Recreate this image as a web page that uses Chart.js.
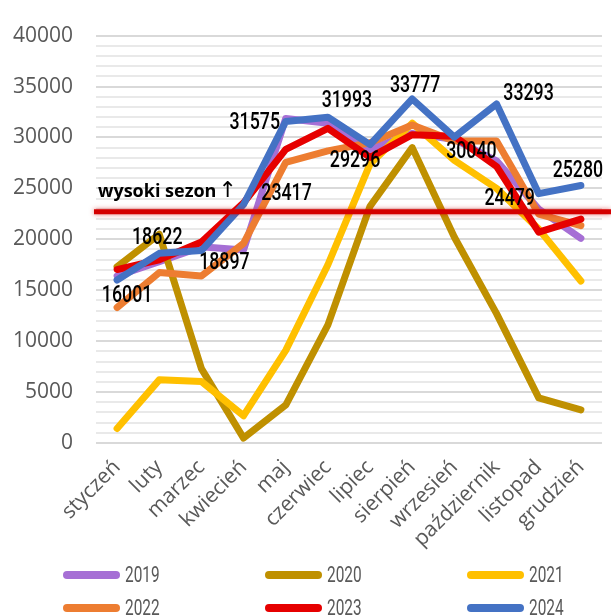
<!DOCTYPE html>
<html>
<head>
<meta charset="utf-8">
<script src="https://cdn.jsdelivr.net/npm/chart.js@4"></script>
<style>
  html, body { margin: 0; padding: 0; background: #fff; }
  #wrap { width: 611px; height: 615px; }
</style>
</head>
<body>
<div id="wrap"><canvas id="chart" width="611" height="615"></canvas></div>
<script>
// dane
const miesiace = ['styczeń', 'luty', 'marzec', 'kwiecień', 'maj', 'czerwiec', 'lipiec', 'sierpień', 'wrzesień', 'październik', 'listopad', 'grudzień'];
const lata = ['2019', '2020', '2021', '2022', '2023', '2024'];
const dane2019 = [16400, 17800, 19260, 18950, 31870, 31400, 28830, 30400, 29800, 27700, 22960, 20100];
const dane2020 = [17300, 20500, 7300, 480, 3730, 11600, 23250, 29000, 20200, 12700, 4430, 3250];
const dane2021 = [1430, 6200, 6030, 2680, 9090, 17500, 27400, 31400, 27750, 25000, 21000, 15900];
const dane2022 = [13300, 16730, 16400, 19600, 27560, 28680, 29480, 31230, 29640, 29640, 22480, 21340];
const dane2023 = [17030, 17990, 19740, 23570, 28830, 30900, 28040, 30270, 30110, 27150, 20700, 21980];
const dane2024 = [16001, 18622, 18897, 23417, 31575, 31993, 29296, 33777, 30040, 33293, 24479, 25280];
const wysokiSezon = 22700;
const krokPomocniczy = 1000;

const kolory = ['#a66fd5', '#bf9000', '#ffc000', '#ed7d31', '#e60000', '#4472c4'];
// przesuniecia etykiet wartosci (2024) wzgledem punktu, w px
const przesuniecia = [[10, 16], [-2, -15], [23, 12], [43, -10], [-31, 2], [19, -16], [-15, 16], [3, -13], [17, 15], [32, -10], [-29, 5], [-3, -15]];

const serie = [dane2019, dane2020, dane2021, dane2022, dane2023, dane2024];

function napisWasko(ctx, tekst, x, y, sx) {
    ctx.save();
    ctx.translate(x, y);
    ctx.scale(sx, 1);
    ctx.fillText(tekst, 0, 0);
    ctx.restore();
}

// pomocnicze linie siatki, linia "wysoki sezon", etykiety wartosci i legenda
const dodatki = {
    id: 'dodatki',
    beforeDatasetsDraw(chart) {
        const ctx = chart.ctx;
        const area = chart.chartArea;
        const sy = chart.scales.y;
        ctx.save();
        ctx.strokeStyle = '#e9e9e9';
        ctx.lineWidth = 2;
        for (let v = sy.min + krokPomocniczy; v < sy.max; v += krokPomocniczy) {
            if (v % 5000 === 0) continue;
            const y = Math.round(sy.getPixelForValue(v));
            ctx.beginPath();
            ctx.moveTo(area.left, y);
            ctx.lineTo(area.right, y);
            ctx.stroke();
        }
        ctx.restore();
    },
    afterDatasetsDraw(chart) {
        const ctx = chart.ctx;
        const area = chart.chartArea;
        const y = chart.scales.y.getPixelForValue(wysokiSezon);

        ctx.save();
        ctx.strokeStyle = '#d40000';
        ctx.lineWidth = 5;
        ctx.shadowColor = 'rgba(210, 0, 0, 0.55)';
        ctx.shadowBlur = 5;
        ctx.beginPath();
        ctx.moveTo(area.left - 2, y);
        ctx.lineTo(chart.width, y);
        ctx.stroke();
        ctx.restore();

        ctx.save();
        ctx.fillStyle = '#000';
        ctx.font = 'bold 18px "Open Sans"';
        ctx.textAlign = 'left';
        ctx.textBaseline = 'middle';
        ctx.fillText('wysoki sezon', area.left + 2, y - 20);
        const w = ctx.measureText('wysoki sezon').width;
        ctx.font = '22px "DejaVu Sans"';
        ctx.fillText('\u2191', area.left + 4 + w, y - 21);
        ctx.restore();

        // etykiety wartosci dla 2024
        const meta = chart.getDatasetMeta(5);
        ctx.save();
        ctx.fillStyle = '#000';
        ctx.font = '500 24px Roboto';
        ctx.textAlign = 'center';
        ctx.textBaseline = 'middle';
        meta.data.forEach((pt, i) => {
            napisWasko(ctx, String(dane2024[i]), pt.x + przesuniecia[i][0], pt.y + przesuniecia[i][1], 0.74);
        });
        ctx.restore();
    },
    afterDraw(chart) {
        const ctx = chart.ctx;
        ctx.save();
        ctx.font = '22px Roboto';
        ctx.fillStyle = '#595959';
        ctx.textAlign = 'left';
        ctx.textBaseline = 'middle';
        lata.forEach((rok, i) => {
            const kol = i % 3;
            const wiersz = Math.floor(i / 3);
            const x = 63 + kol * 202;
            const y = 575 + wiersz * 33;
            ctx.strokeStyle = kolory[i];
            ctx.lineWidth = 8;
            ctx.lineCap = 'round';
            ctx.beginPath();
            ctx.moveTo(x + 4, y);
            ctx.lineTo(x + 53, y);
            ctx.stroke();
            napisWasko(ctx, rok, x + 62, y + 1, 0.7);
        });
        ctx.restore();
    }
};

const ctx = document.getElementById('chart').getContext('2d');
new Chart(ctx, {
    type: 'line',
    data: {
        labels: miesiace,
        datasets: serie.map((d, i) => ({
            label: lata[i],
            data: d,
            borderColor: kolory[i],
            backgroundColor: kolory[i],
            borderWidth: 7,
            pointRadius: 0,
            tension: 0,
            fill: false,
            borderCapStyle: 'round',
            borderJoinStyle: 'round',
            order: 5 - i
        }))
    },
    options: {
        responsive: false,
        animation: false,
        layout: { padding: { top: 25, right: 7, bottom: 60, left: 0 } },
        plugins: {
            legend: { display: false },
            tooltip: { enabled: false }
        },
        scales: {
            x: {
                offset: true,
                grid: { display: false, drawTicks: false, offset: true },
                border: { display: false },
                ticks: {
                    color: '#595959',
                    font: { family: '"Open Sans"', size: 21 },
                    minRotation: 45,
                    maxRotation: 45,
                    autoSkip: false,
                    padding: 12
                },
                afterFit(scale) { scale.height = 112; }
            },
            y: {
                min: 0,
                max: 40000,
                border: { display: false },
                grid: {
                    drawTicks: false,
                    color: '#d9d9d9',
                    lineWidth: 2
                },
                ticks: {
                    stepSize: 5000,
                    padding: 23,
                    color: '#595959',
                    font: { family: '"Open Sans"', size: 21 },
                    callback: v => String(v)
                },
                afterFit(scale) { scale.width = 96; }
            }
        }
    },
    plugins: [dodatki]
});
</script>
</body>
</html>
